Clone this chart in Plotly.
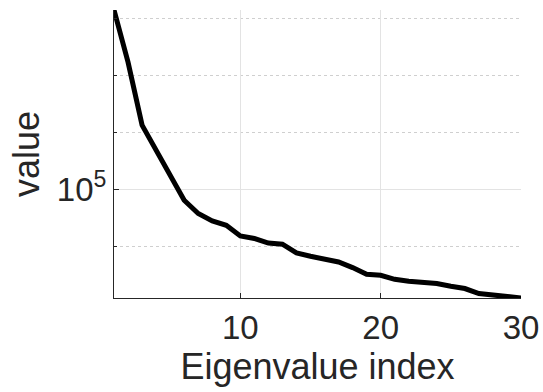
import numpy as np
import plotly.graph_objects as go

# Eigenvalue spectrum (sorted, descending)
eig_index = list(range(1, 31))
eig_values = [
    1.42e8, 1.72e7, 1.34e6, 4.86e5, 1.65e5, 6.4e4, 3.73e4, 2.77e4, 2.32e4, 1.51e4,
    1.36e4, 1.13e4, 1.08e4, 7.57e3, 6.61e3, 5.78e3, 5.25e3, 4.18e3, 3.19e3, 3.06e3,
    2.60e3, 2.40e3, 2.28e3, 2.19e3, 1.96e3, 1.79e3, 1.46e3, 1.36e3, 1.27e3, 1.22e3,
]

x_ticks = [10, 20, 30]
y_ticks = [1e5]
y_tick_text = ["10<sup>5</sup>"]
y_minor = [1e4, 1e6, 1e7, 1e8]

ink = "#262626"
grid = "#e3e3e3"
font_family = "Liberation Sans, Arial, sans-serif"

fig = go.Figure(
    go.Scatter(
        x=eig_index,
        y=eig_values,
        mode="lines",
        line=dict(color="black", width=5),
        hoverinfo="skip",
    )
)

fig.update_layout(
    width=543,
    height=392,
    margin=dict(l=114, r=22, t=10, b=94),
    paper_bgcolor="white",
    plot_bgcolor="white",
    showlegend=False,
    font=dict(family=font_family, color=ink),
)

fig.update_xaxes(
    automargin=False,
    range=[min(eig_index), max(eig_index)],
    tickmode="array",
    tickvals=x_ticks,
    ticks="inside",
    ticklen=5,
    tickcolor=ink,
    tickfont=dict(size=33, color=ink),
    showgrid=True,
    gridcolor=grid,
    gridwidth=1,
    showline=True,
    linecolor=ink,
    linewidth=1,
    zeroline=False,
    title=dict(text="Eigenvalue index", font=dict(size=36, color=ink), standoff=4),
)

fig.update_yaxes(
    automargin=False,
    type="log",
    range=[np.log10(min(eig_values)), np.log10(max(eig_values))],
    tickmode="array",
    tickvals=y_ticks,
    ticktext=y_tick_text,
    ticks="inside",
    ticklen=5,
    tickcolor=ink,
    tickfont=dict(size=33, color=ink),
    showgrid=True,
    gridcolor=grid,
    gridwidth=1,
    minor=dict(
        tickmode="array",
        tickvals=y_minor,
        ticks="inside",
        ticklen=3,
        tickcolor=ink,
        showgrid=True,
        gridcolor="#cfcfcf",
        griddash="dot",
        gridwidth=1,
    ),
    showline=True,
    linecolor=ink,
    linewidth=1,
    zeroline=False,
    title=dict(text="value", font=dict(size=36, color=ink), standoff=6),
)

fig.write_html("out.html")
